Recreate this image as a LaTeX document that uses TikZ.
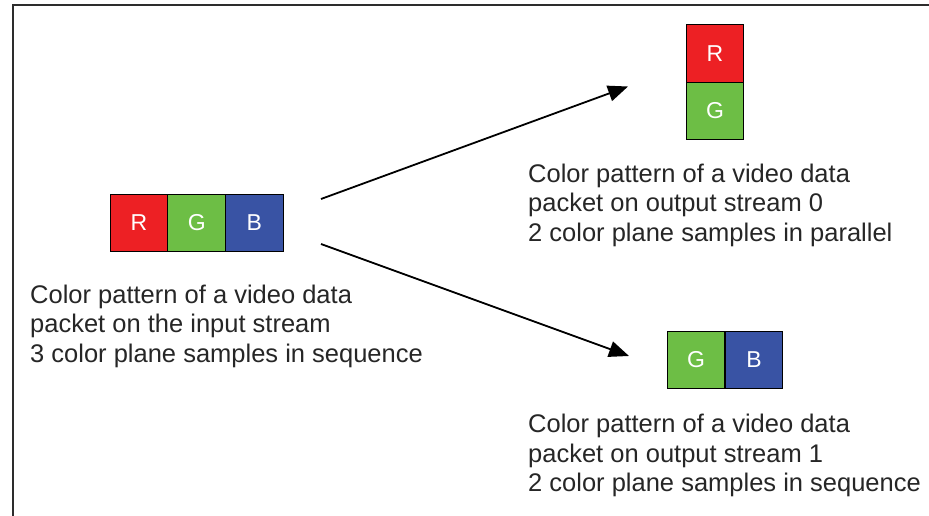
\documentclass[tikz,border=0pt]{standalone}
\usepackage{fontspec}
\setmainfont{Liberation Sans}
\usetikzlibrary{arrows.meta}
\definecolor{cR}{RGB}{237,32,36}
\definecolor{cG}{RGB}{109,190,69}
\definecolor{cB}{RGB}{57,83,164}
\definecolor{frame}{RGB}{45,45,45}
\tikzset{
  cell/.style={draw=black, line width=1pt, minimum width=57.7pt, minimum height=57.5pt, inner sep=0pt,
    text=white, font=\fontsize{23}{23}\selectfont},
  caption/.style={anchor=north west, inner sep=0pt, align=left, text=black!85,
    font=\fontsize{25.5}{29.5}\selectfont},
  arr/.style={line width=1.8pt, -{Triangle[length=20pt,width=16pt]}},
}
\begin{document}
\begin{tikzpicture}[x=1pt,y=-1pt]
\useasboundingbox (0,0) rectangle (929,516);
\draw[frame, line width=2pt] (13,517) -- (13,5) -- (930,5);
% input
\node[cell, fill=cR] (iR) at (139,223) {R};
\node[cell, fill=cG] (iG) at (196.7,223) {G};
\node[cell, fill=cB] (iB) at (254.4,223) {B};
% output 0
\node[cell, fill=cR] (oR) at (715,53.5) {R};
\node[cell, fill=cG] (oG) at (715,111) {G};
% output 1
\node[cell, fill=cG] (pG) at (696,360) {G};
\node[cell, fill=cB] (pB) at (754,360) {B};
% captions
\node[caption] (ti) at (30,284.5) {Color pattern of a video data\\packet on the input stream\\3 color plane samples in sequence};
\node[caption] (t0) at (528,163.5) {Color pattern of a video data\\packet on output stream 0\\2 color plane samples in parallel};
\node[caption] (t1) at (528,414) {Color pattern of a video data\\packet on output stream 1\\2 color plane samples in sequence};
% arrows
\coordinate (s0) at (321,199);
\coordinate (e0) at (628,86.5);
\coordinate (s1) at (321,244);
\coordinate (e1) at (629,356);
\draw[arr] (s0) -- (e0);
\draw[arr] (s1) -- (e1);
\end{tikzpicture}
\end{document}
